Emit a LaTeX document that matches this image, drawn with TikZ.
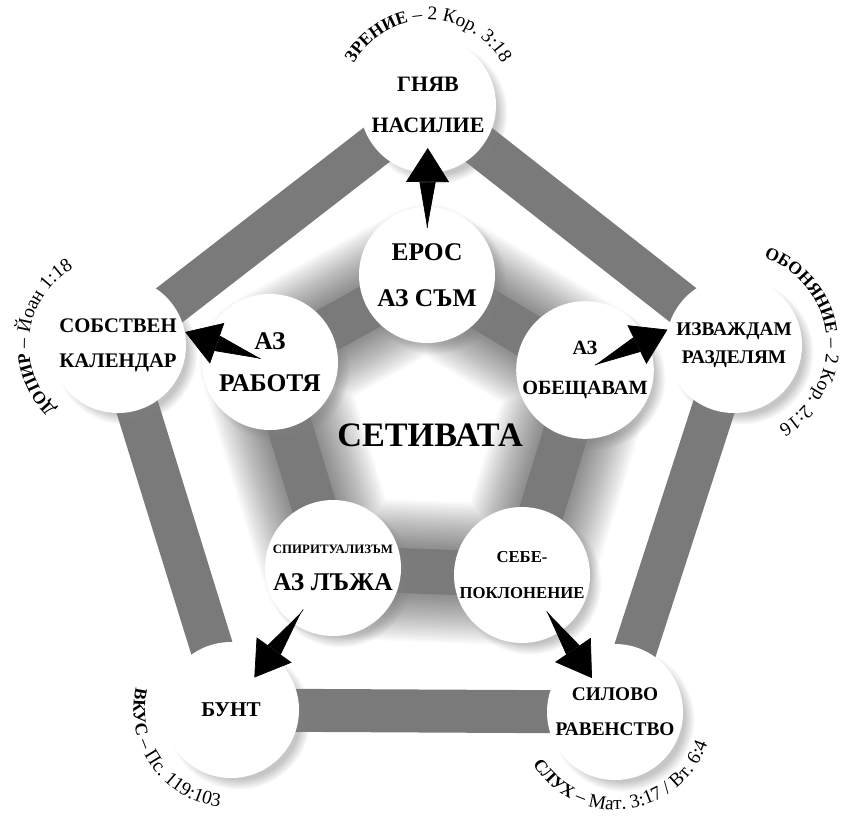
\documentclass[tikz,border=0pt]{standalone}
\usepackage{fontspec}
\setmainfont{Liberation Serif}
\usetikzlibrary{arrows.meta, shadows, decorations.text, backgrounds}

\tikzset{
  sense/.style={circle, fill=white, minimum size=2.72cm, inner sep=0pt, align=center,
    circular drop shadow={shadow xshift=.14cm, shadow yshift=-.14cm, shadow scale=1.06, opacity=.45}},
  outer/.style={sense, font=\bfseries\fontsize{12}{21}\selectfont},
  inner/.style={sense, font=\bfseries\fontsize{14.5}{24}\selectfont},
  band/.style={line width=.86cm, black!52, line join=round},
  pointer/.style={line width=.4pt, -{Triangle[reversed, length=.92cm, width=.32cm]Triangle[length=.68cm, width=.86cm]}},
  arclabel/.style={decorate, decoration={text along path, text align=center, text={#1}}},
}

\begin{document}
\begin{tikzpicture}
\useasboundingbox (0,0) rectangle (17.1,-16.44);

% outer ring
\node[outer, font=\bfseries\fontsize{12.5}{23}\selectfont] (gnyav) at (8.56,-2.10) {ГНЯВ\\НАСИЛИЕ};
\node[outer, font=\bfseries\fontsize{11}{16}\selectfont] (izv) at (14.68,-6.90) {ИЗВАЖДАМ\\РАЗДЕЛЯМ};
\node[outer, font=\bfseries\fontsize{11}{20}\selectfont] (silovo) at (12.30,-14.24) {СИЛОВО\\РАВЕНСТВО};
\node[outer] (bunt) at (4.62,-14.20) {БУНТ};
\node[outer, font=\bfseries\fontsize{11.8}{20}\selectfont] (kalendar) at (2.36,-6.90) {СОБСТВЕН\\КАЛЕНДАР};

% inner ring
\node[inner, font=\bfseries\fontsize{14.5}{26}\selectfont] (eros) at (8.54,-5.50) {ЕРОС\\АЗ СЪМ};
\node[inner] (rabotya) at (5.40,-7.24) {АЗ\\РАБОТЯ};
\node[inner, font=\bfseries\fontsize{11.5}{23}\selectfont] (obesht) at (11.70,-7.40) {АЗ\\ОБЕЩАВАМ};
\node[inner, font=\bfseries\fontsize{14.5}{21}\selectfont] (lazha) at (6.66,-11.36)
  {{\fontsize{7.3}{9}\selectfont СПИРИТУАЛИЗЪМ}\\АЗ ЛЪЖА};
\node[inner, font=\bfseries\fontsize{9.5}{21}\selectfont] (sebe) at (10.44,-11.50) {СЕБЕ-\\ПОКЛОНЕНИЕ};

\node[font=\bfseries\fontsize{19.5}{19.5}\selectfont] (title) at (8.60,-8.70) {СЕТИВАТА};

\begin{pgfonlayer}{background}
  \foreach \i in {1,...,24}
    \draw[line width={(0.9+0.08*\i)*1cm}, black, opacity=.022, line join=round]
      (eros.center) -- (obesht.center) -- (sebe.center) -- (lazha.center) -- (rabotya.center) -- cycle;
  \draw[band] (gnyav.center) -- (izv.center) -- (silovo.center) -- (bunt.center) -- (kalendar.center) -- cycle;
  \draw[band, line width=.9cm] (eros.center) -- (obesht.center) -- (sebe.center) -- (lazha.center) -- (rabotya.center) -- cycle;
\end{pgfonlayer}

% arrows
\draw[pointer, shorten <=.94cm, shorten >=.86cm] (eros.center) -- (gnyav.center);
\draw[pointer, shorten <=.2cm] (rabotya.center) -- (kalendar.11);
\draw[pointer, shorten <=.22cm] (obesht.center) -- (izv.167);
\draw[pointer, shorten <=1.02cm, shorten >=.8cm] (lazha.center) -- (bunt.center);
\draw[pointer, shorten <=.88cm, shorten >=.82cm] (sebe.center) -- (silovo.center);

% senses
\path[arclabel={|\bfseries\fontsize{10}{10}\selectfont|ЗРЕНИЕ |\normalfont\fontsize{11}{11}\selectfont|– 2 Кор. 3:18}]
  ([shift={(170:1.7)}]gnyav.center) arc[start angle=170, end angle=10, radius=1.7];
\path[arclabel={|\bfseries\fontsize{10}{10}\selectfont|ОБОНЯНИЕ |\normalfont\fontsize{11}{11}\selectfont|– 2 Кор. 2:16}]
  ([shift={(85:1.85)}]izv.center) arc[start angle=85, end angle=-75, radius=1.85];
\path[arclabel={|\bfseries\fontsize{10}{10}\selectfont|ДОПИР |\normalfont\fontsize{11}{11}\selectfont|– Йоан 1:18}]
  ([shift={(253:1.78)}]kalendar.center) arc[start angle=253, end angle=93, radius=1.78];
\path[arclabel={|\bfseries\fontsize{10}{10}\selectfont|ВКУС |\normalfont\fontsize{11}{11}\selectfont|– Пс. 119:103}]
  ([shift={(135:1.95)}]bunt.center) arc[start angle=135, end angle=295, radius=1.95];
\path[arclabel={|\bfseries\fontsize{10}{10}\selectfont|СЛУХ |\normalfont\fontsize{11}{11}\selectfont|– Мат. 3:17 / Вт. 6:4}]
  ([shift={(197:1.95)}]silovo.center) arc[start angle=197, end angle=357, radius=1.95];
\end{tikzpicture}
\end{document}
